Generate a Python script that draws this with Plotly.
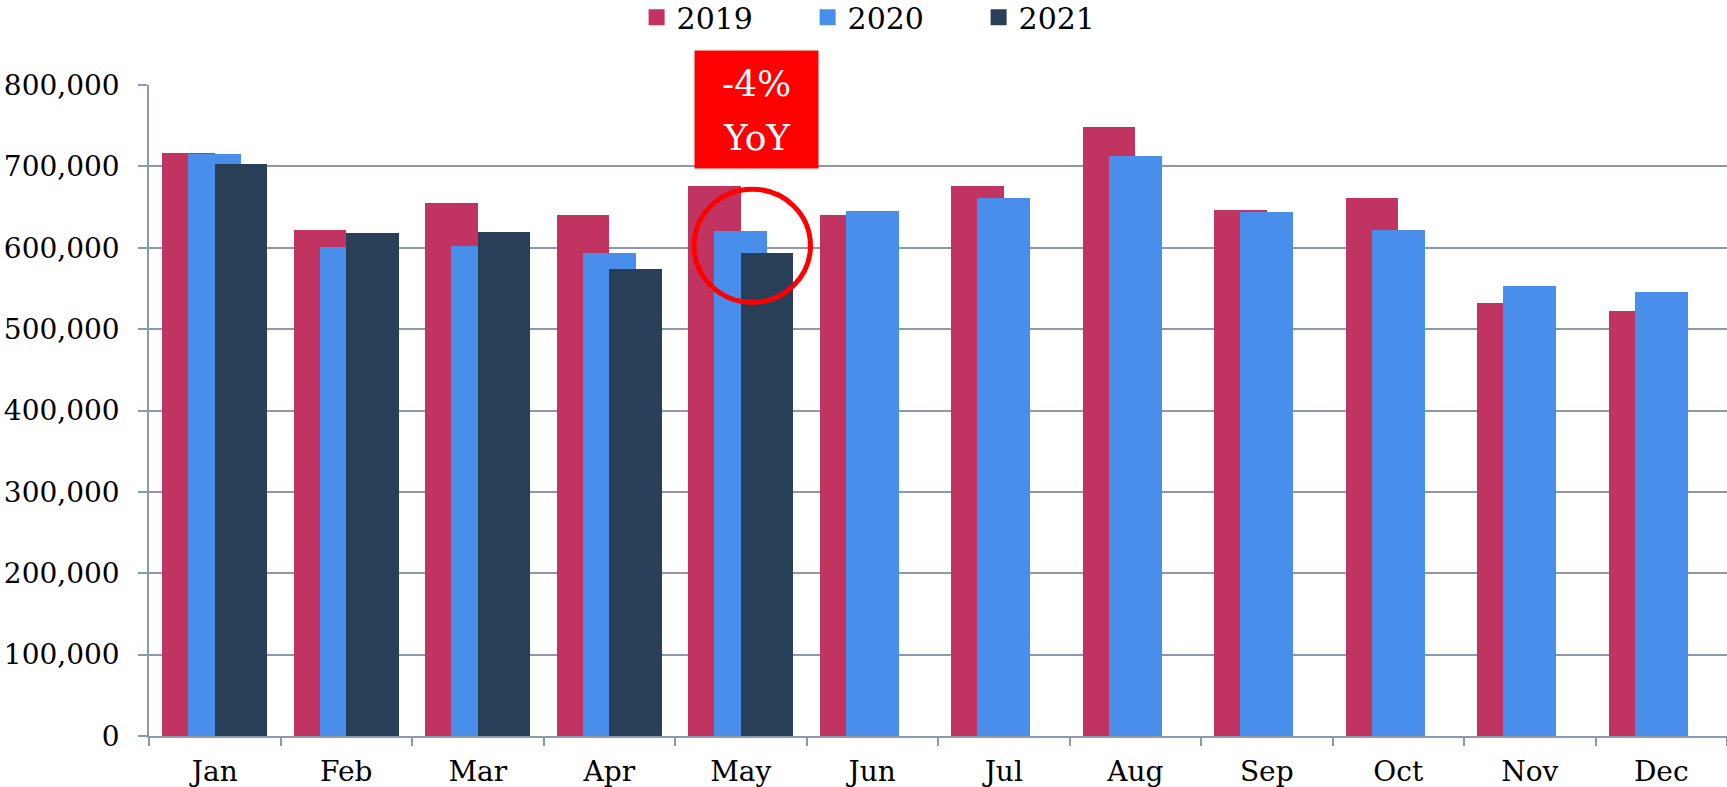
import plotly.graph_objects as go

months = ["Jan", "Feb", "Mar", "Apr", "May", "Jun", "Jul", "Aug", "Sep", "Oct", "Nov", "Dec"]
v2019 = [716000, 622000, 655000, 640000, 676000, 640000, 676000, 749000, 647000, 661000, 532000, 522000]
v2020 = [715000, 601000, 602000, 593000, 620000, 645000, 661000, 713000, 644000, 622000, 553000, 546000]
v2021 = [703000, 618000, 619000, 574000, 594000, None, None, None, None, None, None, None]
series_names = ["2019", "2020", "2021"]
colors = ["#C13360", "#4A8EEC", "#293E57"]

FONT = "Georgia, 'DejaVu Serif', serif"
GRID = "#8E98AC"

fig = go.Figure()
offsets = [-0.4, -0.2, 0.0]
for name, vals, col, off in zip(series_names, [v2019, v2020, v2021], colors, offsets):
    fig.add_trace(go.Bar(
        x=months, y=vals, name=name, marker=dict(color=col, line=dict(width=0)),
        width=0.4, offset=off, showlegend=False, legendgroup=name,
    ))
# legend entries with larger square swatches
for name, col in zip(series_names, colors):
    fig.add_trace(go.Scatter(
        x=[None], y=[None], mode="markers", name=name, legendgroup=name,
        marker=dict(symbol="square", size=20, color=col),
    ))

fig.update_layout(
    width=1727, height=787,
    barmode="overlay",
    plot_bgcolor="white", paper_bgcolor="white",
    margin=dict(l=149, r=0, t=85, b=51, autoexpand=False),
    font=dict(family=FONT, size=28, color="black"),
    legend=dict(orientation="h", x=0.309, xanchor="left", y=1.104, yanchor="middle",
                font=dict(size=30), itemwidth=30, traceorder="normal",
                entrywidth=126, entrywidthmode="pixels"),
    xaxis=dict(type="category", range=[-0.5, 11.5], tickson="boundaries", ticks="outside",
               ticklen=8, tickwidth=1.5, tickcolor=GRID, showline=True, linecolor=GRID,
               linewidth=1.5, showgrid=False, tickfont=dict(size=28), ticklabelstandoff=10),
    yaxis=dict(range=[0, 800000], dtick=100000, tickformat=",", showgrid=True,
               gridcolor=GRID, gridwidth=1.5, showline=True, linecolor=GRID, linewidth=1.5,
               ticks="outside", ticklen=9, tickwidth=1.5, tickcolor=GRID, zeroline=False,
               ticklabelstandoff=13, tickfont=dict(size=28)),
    bargap=0,
)

# red "-4% YoY" callout box
fig.add_annotation(
    xref="x", x=4.12, yref="paper", y=0.962, yanchor="middle", xanchor="center",
    text=" ", showarrow=False, bgcolor="#FF0000", width=123, height=117, borderpad=0,
)
fig.add_annotation(
    xref="x", x=4.12, yref="paper", y=1.002, yanchor="middle", xanchor="center",
    text="-4%", showarrow=False, font=dict(size=36, color="white", family=FONT),
)
fig.add_annotation(
    xref="x", x=4.12, yref="paper", y=0.92, yanchor="middle", xanchor="center",
    text="YoY", showarrow=False, font=dict(size=36, color="white", family=FONT),
)
fig.add_shape(type="circle", xref="x", yref="y", x0=3.645, x1=4.53, y0=533000, y1=672000,
              line=dict(color="#FF0000", width=5))

fig.write_html("out.html", post_script="document.body.style.margin='0';",
               config={"displayModeBar": False})
